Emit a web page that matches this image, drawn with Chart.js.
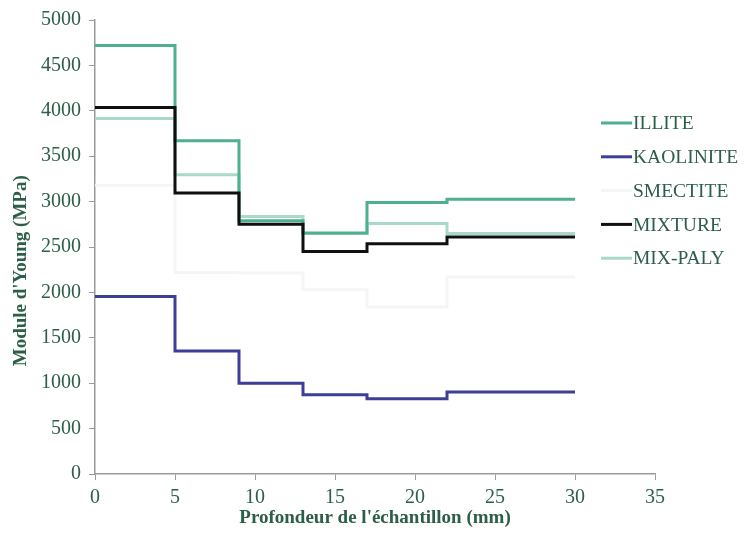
<!DOCTYPE html>
<html>
<head>
<meta charset="utf-8">
<script src="https://cdn.jsdelivr.net/npm/chart.js@4/dist/chart.umd.min.js"></script>
<style>
  html, body { margin: 0; padding: 0; background: #ffffff; }
  #wrap { width: 747px; height: 533px; }
</style>
</head>
<body>
<div id="wrap"><canvas id="myChart" width="747" height="533"></canvas></div>
<script>
// depth of each layer boundary (mm); last value repeated to close the step
const depth = [0, 5, 9, 13, 17, 22, 30];
const illite = [4720, 3670, 2790, 2655, 2990, 3025, 3025];
const kaolinite = [1955, 1355, 1000, 872, 830, 902, 902];
const smectite = [3180, 2220, 2215, 2030, 1840, 2170, 2170];
const mixture = [4035, 3095, 2750, 2450, 2535, 2610, 2610];
const mixPaly = [3915, 3295, 2835, 2650, 2760, 2650, 2650];

const seriesNames = ["ILLITE", "KAOLINITE", "SMECTITE", "MIXTURE", "MIX-PALY"];
const seriesColors = ["#4fb08e", "#3d3f97", "#f4f5f4", "#101010", "#a9d9c8"];
const seriesValues = [illite, kaolinite, smectite, mixture, mixPaly];

const textColor = "#2c5e48";
const axisColor = "#9a9a9a";

function toPoints(vals) {
  return depth.map(function (d, i) { return { x: d, y: vals[i] }; });
}

// draw order: smectite underneath, then the others
const drawOrder = [2, 4, 0, 3, 1];
const datasets = seriesNames.map(function (name, i) {
  return {
    label: name,
    data: toPoints(seriesValues[i]),
    borderColor: seriesColors[i],
    backgroundColor: seriesColors[i],
    borderWidth: 3,
    stepped: true,
    pointRadius: 0,
    fill: false,
    order: drawOrder.length - drawOrder.indexOf(i)
  };
});

// legend drawn over the right part of the plot, like the original
const sideLegend = {
  id: "sideLegend",
  afterDraw: function (chart) {
    const ctx = chart.ctx;
    ctx.save();
    ctx.font = "19.5px 'Liberation Serif'";
    ctx.textBaseline = "middle";
    ctx.textAlign = "left";
    chart.data.datasets.forEach(function (ds, i) {
      const y = 123 + i * 33.8;
      ctx.strokeStyle = ds.borderColor;
      ctx.lineWidth = 3;
      ctx.beginPath();
      ctx.moveTo(601, y);
      ctx.lineTo(632, y);
      ctx.stroke();
      ctx.fillStyle = textColor;
      ctx.fillText(ds.label, 633, y + 1);
    });
    ctx.restore();
  }
};

const ctx = document.getElementById("myChart").getContext("2d");
const myChart = new Chart(ctx, {
  type: "line",
  data: { datasets: datasets },
  options: {
    responsive: false,
    animation: false,
    layout: { padding: { top: 18, right: 92, bottom: 0, left: 0 } },
    plugins: {
      legend: { display: false },
      tooltip: { enabled: false }
    },
    scales: {
      x: {
        type: "linear",
        min: 0,
        max: 35,
        ticks: {
          stepSize: 5,
          color: textColor,
          font: { family: "Liberation Serif", size: 20 },
          padding: 6,
          callback: function (v) { return String(v); }
        },
        grid: { drawOnChartArea: false, drawTicks: true, tickLength: 6, color: axisColor },
        border: { color: axisColor, width: 1.5 },
        title: {
          display: true,
          text: "Profondeur de l'échantillon (mm)",
          color: textColor,
          font: { family: "Liberation Serif", size: 19, weight: "bold" },
          padding: { top: 0 }
        },
        afterFit: function (scale) { scale.height = 59; }
      },
      y: {
        min: 0,
        max: 5000,
        ticks: {
          stepSize: 500,
          color: textColor,
          font: { family: "Liberation Serif", size: 20 },
          padding: 8,
          callback: function (v) { return String(v); }
        },
        grid: { drawOnChartArea: false, drawTicks: true, tickLength: 6, color: axisColor },
        border: { color: axisColor, width: 1.5 },
        title: {
          display: true,
          text: "Module d'Young (MPa)          ",
          color: textColor,
          font: { family: "Liberation Serif", size: 19, weight: "bold" },
          padding: { top: 10, bottom: 0 }
        },
        afterFit: function (scale) { scale.width = 95; }
      }
    }
  },
  plugins: [sideLegend]
});
</script>
</body>
</html>
